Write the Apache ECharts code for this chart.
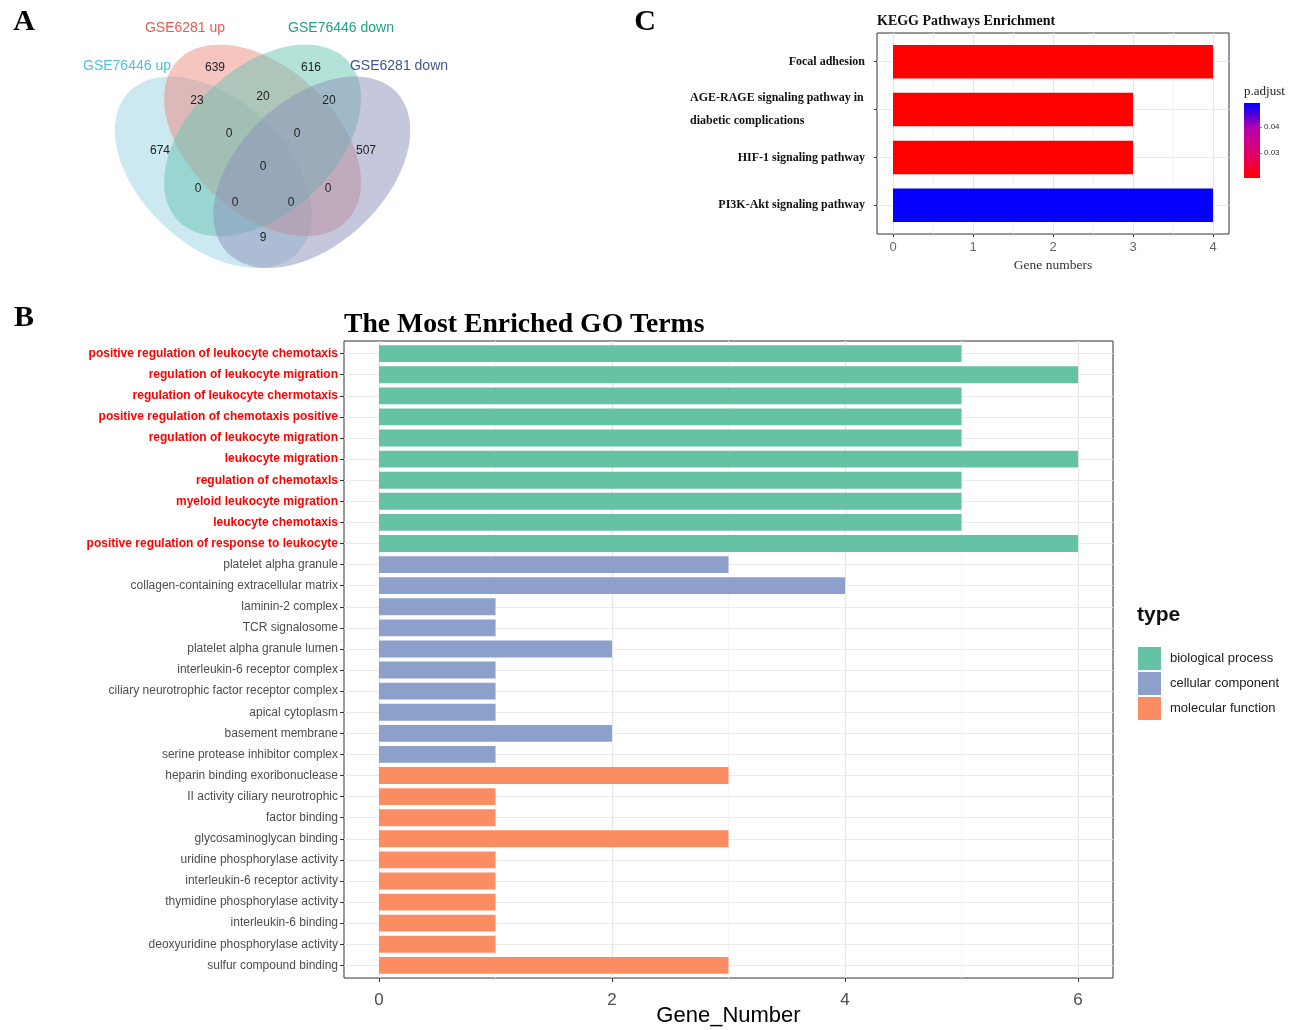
<!DOCTYPE html>
<html><head><meta charset="utf-8">
<script src="https://cdn.jsdelivr.net/npm/echarts@6/dist/echarts.min.js"></script>
<style>html,body{margin:0;padding:0;background:#fff}#c{width:1298px;height:1030px}</style>
</head><body><div id="c"></div>
<script>
// ---------------- DATA ----------------
const goTerms = [
  'positive regulation of leukocyte chemotaxis',
  'regulation of leukocyte migration',
  'regulation of leukocyte chermotaxis',
  'positive regulation of chemotaxis positive',
  'regulation of leukocyte migration\u200b',
  'leukocyte migration',
  'regulation of chemotaxIs',
  'myeloid leukocyte migration',
  'leukocyte chemotaxis',
  'positive regulation of response to leukocyte',
  'platelet alpha granule',
  'collagen-containing extracellular matrix',
  'laminin-2 complex',
  'TCR signalosome',
  'platelet alpha granule lumen',
  'interleukin-6 receptor complex',
  'ciliary neurotrophic factor receptor complex',
  'apical cytoplasm',
  'basement membrane',
  'serine protease inhibitor complex',
  'heparin binding exoribonuclease',
  'II activity ciliary neurotrophic',
  'factor binding',
  'glycosaminoglycan binding',
  'uridine phosphorylase activity',
  'interleukin-6 receptor activity',
  'thymidine phosphorylase activity',
  'interleukin-6 binding',
  'deoxyuridine phosphorylase activity',
  'sulfur compound binding'
];
const goCounts = [5,6,5,5,5,6,5,5,5,6, 3,4,1,1,2,1,1,1,2,1, 3,1,1,3,1,1,1,1,1,3];
const goTypeIdx = [0,0,0,0,0,0,0,0,0,0, 1,1,1,1,1,1,1,1,1,1, 2,2,2,2,2,2,2,2,2,2];
const typeNames = ['biological process','cellular component','molecular function'];
const goXTicks = [0,2,4,6];

const keggPathways = ['Focal adhesion','AGE-RAGE signaling pathway in\ndiabetic complications','HIF-1 signaling pathway','PI3K-Akt signaling pathway'];
const keggCounts = [4,3,3,4];
const keggPadj = [0.0205,0.0205,0.0205,0.0490];
const keggXTicks = [0,1,2,3,4];
const padjTicks = [0.03,0.04];

const vennSets = ['GSE76446 up','GSE6281 up','GSE76446 down','GSE6281 down'];
const vennCounts = [674,639,616,507,23,20,20,0,0,0,0,0,0,0,9];

// ---------------- LAYOUT / STYLE ----------------
const typeColors = ['#66C2A5','#8DA0CB','#FC8D62'];
const GO = {left:344, top:341, width:769, height:637};
const KG = {left:877, top:33, width:352, height:201};
const CB = {left:1244, top:103, width:16, height:75};
const padjMin = 0.0204, padjMax = 0.0492;
const padjColors = ['#ff0000','#e0006e','#b400b0','#0000ff'];

function inset(p, n){ const band = p.height/(n-1+1.2); const d = 0.1*band;
  return {left:p.left, top:p.top+d, width:p.width, height:p.height-2*d}; }
const GOin = inset(GO, goTerms.length), KGin = inset(KG, keggPathways.length);

const cv = document.createElement('canvas').getContext('2d');
cv.font = 'bold 12px "Liberation Serif"';
function lineW(s){ return Math.ceil(cv.measureText(s).width)+1; }
const keggWrapW = Math.max.apply(null, keggPathways.filter(s=>s.indexOf('\n')>=0).join('\n').split('\n').map(lineW));

// venn geometry (unit square, y up) -> pixels
const vennEll = [
  {cx:0.35, cy:0.47, rot:135, fill:'rgba(153,209,225,0.5)'},
  {cx:0.50, cy:0.57, rot:135, fill:'rgba(235,139,129,0.5)'},
  {cx:0.50, cy:0.57, rot:45,  fill:'rgba(103,197,179,0.5)'},
  {cx:0.65, cy:0.47, rot:45,  fill:'rgba(139,145,185,0.5)'}
];
const vA = 0.36, vB = 0.225;
function vpx(X,Y){ return [115 + (X-0.05)*328, 268 - (Y-0.17)*319]; }
const vennCountPos = [[160,151],[215,68],[311,68],[366,151],[197,101],[263,97],[329,101],
  [229,134],[297,134],[263,167],[198,189],[328,189],[235,203],[291,203],[263,238]];
const vennLabelPos = [[127,66],[185,28],[341,28],[399,66]];
const vennLabelColors = ['#4FBFDF','#EC5B50','#1FA184','#47558C'];

const graphics = [];
vennEll.forEach(e => {
  const pts = []; const th = e.rot*Math.PI/180;
  for (let k=0;k<120;k++){ const t = k/120*2*Math.PI;
    const ex = vA*Math.cos(t), ey = vB*Math.sin(t);
    pts.push(vpx(e.cx + ex*Math.cos(th) - ey*Math.sin(th), e.cy + ex*Math.sin(th) + ey*Math.cos(th)));
  }
  graphics.push({type:'polygon', shape:{points:pts}, style:{fill:e.fill, stroke:'none'}, silent:true});
});
vennCounts.forEach((c,i) => graphics.push({type:'text', style:{text:String(c), x:vennCountPos[i][0], y:vennCountPos[i][1],
  align:'center', verticalAlign:'middle', fontSize:12, fontFamily:'Liberation Sans', fill:'#222'}, silent:true}));
vennSets.forEach((s,i) => graphics.push({type:'text', style:{text:s, x:vennLabelPos[i][0], y:vennLabelPos[i][1],
  align:'center', verticalAlign:'middle', fontSize:14, fontFamily:'Liberation Sans', fill:vennLabelColors[i]}, silent:true}));
[['A',24,22],['B',24,318],['C',645,22]].forEach(l => graphics.push({type:'text', style:{text:l[0], x:l[1], y:l[2],
  align:'center', verticalAlign:'middle', fontSize:30, fontWeight:'bold', fontFamily:'Liberation Serif', fill:'#000'}}));
graphics.push({type:'text', style:{text:'The Most Enriched GO Terms', x:344, y:325, align:'left', verticalAlign:'middle',
  fontSize:27.7, fontWeight:'bold', fontFamily:'Liberation Serif', fill:'#000'}});
graphics.push({type:'text', style:{text:'KEGG Pathways Enrichment', x:877, y:21, align:'left', verticalAlign:'middle',
  fontSize:14, fontWeight:'bold', fontFamily:'Liberation Serif', fill:'#111'}});
graphics.push({type:'text', style:{text:'type', x:1137, y:615, align:'left', verticalAlign:'middle',
  fontSize:21, fontWeight:'bold', fontFamily:'Liberation Sans', fill:'#111'}});
graphics.push({type:'text', style:{text:'p.adjust', x:1244, y:92, align:'left', verticalAlign:'middle',
  fontSize:13, fontFamily:'Liberation Serif', fill:'#222'}});
graphics.push({type:'rect', shape:{x:CB.left, y:CB.top, width:CB.width, height:CB.height},
  style:{fill:new echarts.graphic.LinearGradient(0,1,0,0, padjColors.map((c,i)=>({offset:i/(padjColors.length-1), color:c})))}});

function gridLines(n, majors, minors){
  const d = [];
  for (let i=0;i<n;i++) d.push({yAxis:i, lineStyle:{color:'#ebebeb', width:1.2, type:'solid'}});
  minors.forEach(v => d.push({xAxis:v, lineStyle:{color:'#f4f4f4', width:1, type:'solid'}}));
  majors.forEach(v => d.push({xAxis:v, lineStyle:{color:'#e6e6e6', width:1.3, type:'solid'}}));
  return {silent:true, z:1, symbol:['none','none'], label:{show:false}, animation:false, data:d};
}
const panelGrid = {show:true, borderColor:'#333', borderWidth:1, backgroundColor:'#fff', outerBoundsMode:'none', containLabel:false};
const plainGrid = {outerBoundsMode:'none', containLabel:false};

const option = {
  animation:false,
  graphic: graphics,
  grid: [
    Object.assign({}, panelGrid, GO),
    Object.assign({}, plainGrid, GOin),
    Object.assign({}, panelGrid, KG),
    Object.assign({}, plainGrid, KGin),
    Object.assign({}, plainGrid, CB)
  ],
  xAxis: [
    {gridIndex:0, type:'value', min:-0.3, max:6.3, axisLine:{show:false, onZero:false}, splitLine:{show:false},
     axisTick:{show:true, customValues:goXTicks, length:4, lineStyle:{color:'#333'}},
     axisLabel:{customValues:goXTicks, fontSize:17, color:'#4d4d4d', margin:14, fontFamily:'Liberation Sans'},
     name:'Gene_Number', nameLocation:'middle', nameGap:27, nameMoveOverlap:false,
     nameTextStyle:{fontSize:22, color:'#000', fontFamily:'Liberation Sans'}},
    {gridIndex:1, type:'value', min:-0.3, max:6.3, show:false},
    {gridIndex:2, type:'value', min:-0.2, max:4.2, axisLine:{show:false, onZero:false}, splitLine:{show:false},
     axisTick:{show:true, customValues:keggXTicks, length:3, lineStyle:{color:'#333'}},
     axisLabel:{customValues:keggXTicks, fontSize:13, color:'#666', margin:7, fontFamily:'Liberation Sans'},
     name:'Gene numbers', nameLocation:'middle', nameGap:24, nameMoveOverlap:false,
     nameTextStyle:{fontSize:13.5, color:'#333', fontFamily:'Liberation Serif'}},
    {gridIndex:3, type:'value', min:-0.2, max:4.2, show:false},
    {gridIndex:4, type:'value', min:0, max:1, show:false}
  ],
  yAxis: [
    {gridIndex:0, type:'value', min:-0.6, max:goTerms.length-1+0.6, inverse:true, show:false},
    {gridIndex:1, type:'category', data:goTerms, inverse:true, axisLine:{show:false, onZero:false},
     axisTick:{show:true, alignWithLabel:true, length:4, lineStyle:{color:'#333'}},
     axisLabel:{margin:6, interval:0, formatter:(v,i)=> (goTypeIdx[i]===0 ? '{r|' : '{g|') + v + '}',
       rich:{r:{color:'#ff0000', fontWeight:'bold', fontSize:12, fontFamily:'Liberation Sans'},
             g:{color:'#4d4d4d', fontSize:12, fontFamily:'Liberation Sans'}}}},
    {gridIndex:2, type:'value', min:-0.6, max:keggPathways.length-1+0.6, inverse:true, show:false},
    {gridIndex:3, type:'category', data:keggPathways, inverse:true, axisLine:{show:false, onZero:false},
     axisTick:{show:true, alignWithLabel:true, length:3, lineStyle:{color:'#333'}},
     axisLabel:{margin:12, interval:0, fontSize:12, fontWeight:'bold', color:'#111', fontFamily:'Liberation Serif',
       formatter:(v)=> v.indexOf('\n')<0 ? v : v.split('\n').map(s=>'{l|'+s+'}').join('\n'),
       rich:{l:{fontSize:12, fontWeight:'bold', color:'#111', fontFamily:'Liberation Serif', lineHeight:23, align:'left', width:keggWrapW}}}},
    {gridIndex:4, type:'value', min:padjMin, max:padjMax, position:'right', axisLine:{show:false, onZero:false}, splitLine:{show:false},
     axisTick:{show:true, customValues:padjTicks, length:2, lineStyle:{color:'#888'}},
     axisLabel:{customValues:padjTicks, fontSize:8, color:'#333', margin:4, fontFamily:'Liberation Sans'}}
  ],
  legend: {data:typeNames, orient:'vertical', left:1133, top:642, itemWidth:23, itemHeight:23, itemGap:2, icon:'rect',
    selectedMode:false, textStyle:{fontSize:13, color:'#222', fontFamily:'Liberation Sans', padding:[0,0,0,4]}},
  visualMap: {show:false, type:'continuous', seriesIndex:5, dimension:2, min:padjMin, max:padjMax, inRange:{color:padjColors}},
  series: [
    {type:'scatter', xAxisIndex:0, yAxisIndex:0, data:[], z:1, markLine:gridLines(goTerms.length, [0,2,4,6], [1,3,5])},
  ].concat(typeNames.map((t,k)=>({
    type:'bar', name:t, xAxisIndex:1, yAxisIndex:1, stack:'go', barWidth:'80%', z:6,
    itemStyle:{color:typeColors[k]},
    data: goCounts.map((v,i)=> goTypeIdx[i]===k ? v : '-')
  }))).concat([
    {type:'scatter', xAxisIndex:2, yAxisIndex:2, data:[], z:1, markLine:gridLines(keggPathways.length, [0,1,2,3,4], [0.5,1.5,2.5,3.5])},
    {type:'bar', xAxisIndex:3, yAxisIndex:3, barWidth:'70%', z:6, encode:{x:0, y:1},
     data: keggPathways.map((p,i)=>[keggCounts[i], p, keggPadj[i]])}
  ])
};
echarts.init(document.getElementById('c'), null, {renderer:'canvas'}).setOption(option);
</script></body></html>
